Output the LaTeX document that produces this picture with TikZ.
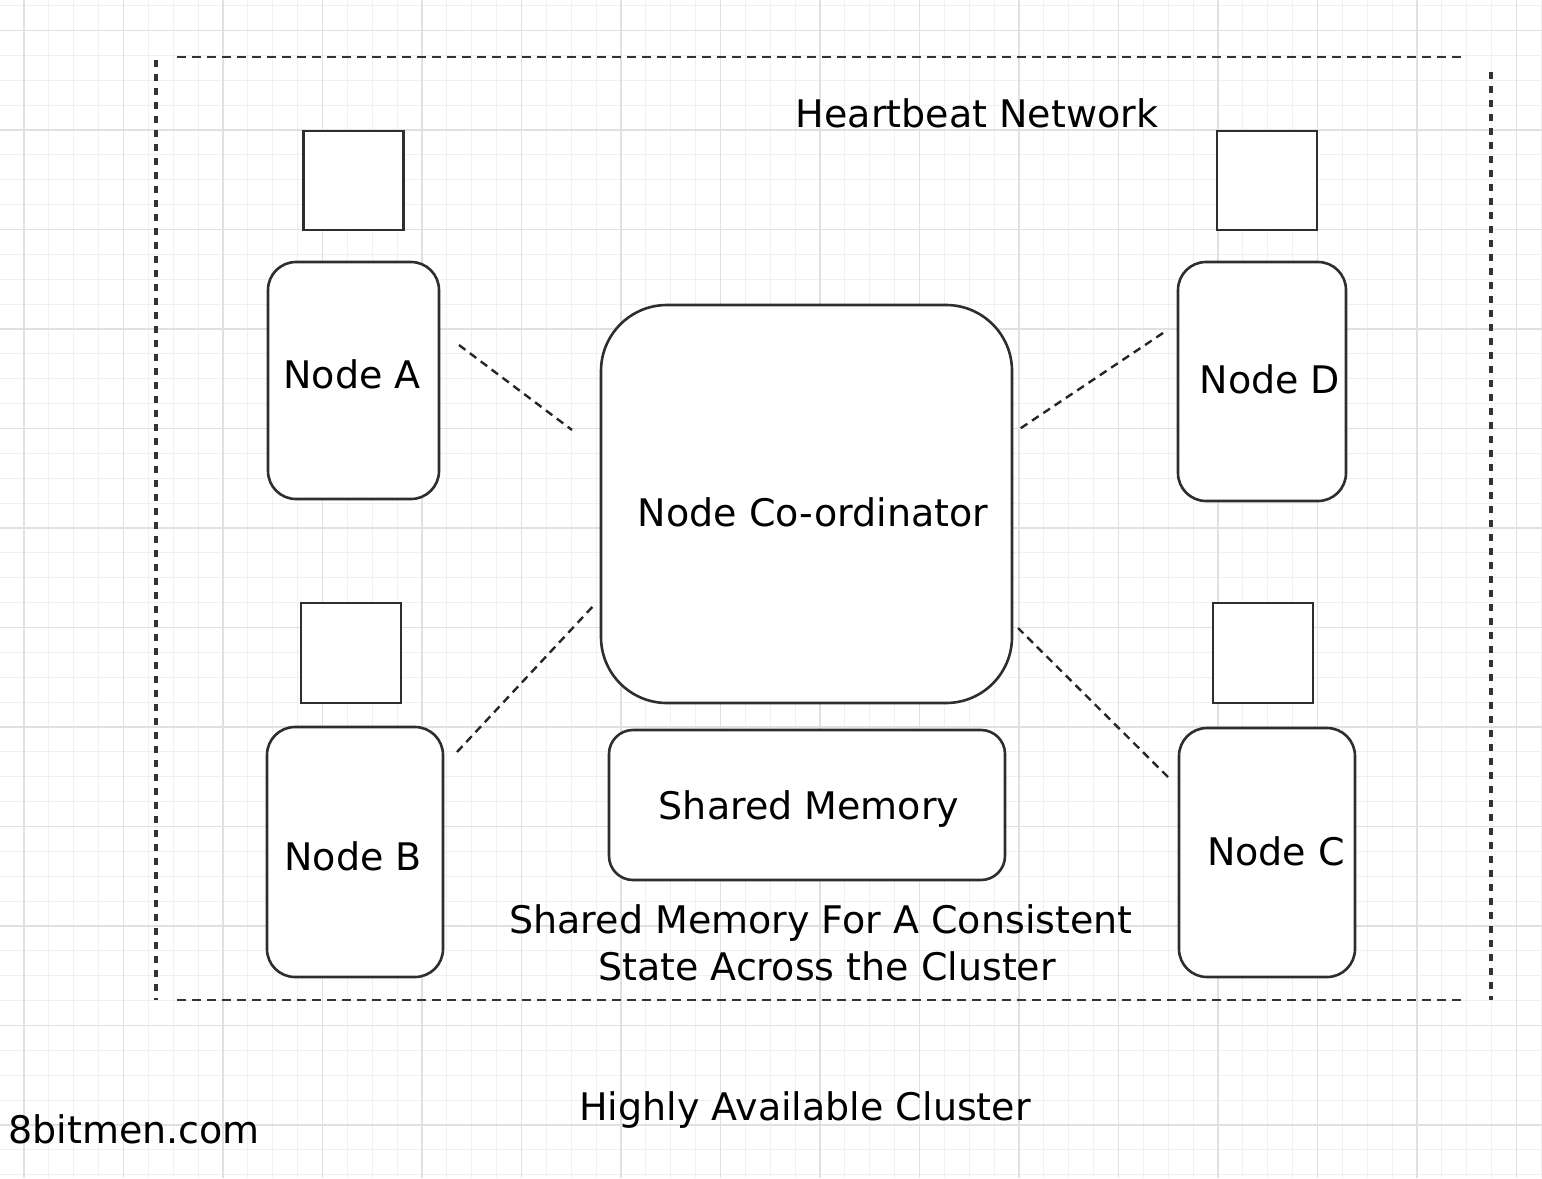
\documentclass[tikz,border=0pt]{standalone}
\usepackage{fontspec}
\setmainfont{DejaVu Sans}
\begin{document}
\begin{tikzpicture}[x=0.5pt,y=-0.5pt,
  minorgrid/.style={draw=black!6,line width=0.5pt},
  majorgrid/.style={draw=black!12,line width=0.6pt},
  box/.style={draw=black!82,line width=1.3pt,fill=white,inner sep=0pt},
  disk/.style={box,rectangle},
  host/.style={box,rounded corners=14pt},
  link/.style={draw=black!85,line width=1.2pt,dash pattern=on 4pt off 2.8pt},
  hborder/.style={draw=black!80,line width=1.4pt,dash pattern=on 4.5pt off 3pt},
  vborder/.style={draw=black!80,line width=1.7pt,dash pattern=on 3.5pt off 3.5pt},
  txt/.style={anchor=base,inner sep=0pt,font=\fontsize{19}{24}\selectfont}
]
% canvas and drawing grid
\useasboundingbox (0,0) rectangle (1542,1178);
\fill[white] (0,0) rectangle (1542,1178);
\foreach \i in {-9,...,53} {
  \draw[minorgrid] ({223+24.875*\i},0) -- ({223+24.875*\i},1178);
}
\foreach \j in {-5,...,42} {
  \draw[minorgrid] (0,{130+24.875*\j}) -- (1542,{130+24.875*\j});
}
\foreach \i in {-2,...,13} {
  \draw[majorgrid] ({223+99.5*\i},0) -- ({223+99.5*\i},1178);
}
\foreach \j in {-1,...,10} {
  \draw[majorgrid] (0,{130+99.5*\j}) -- (1542,{130+99.5*\j});
}

% dashed cluster boundary (heartbeat network)
\draw[hborder] (177,57) -- (1462,57);
\draw[hborder] (177,1000) -- (1462,1000);
\draw[vborder] (156,60) -- (156,1000);
\draw[vborder] (1491,72) -- (1491,1000);
\node[txt] (hb) at (977,127) {Heartbeat Network};

% storage disks above each node
\node[disk,minimum width=50pt,minimum height=49.5pt] (dA) at (353.5,180.5) {};
\node[disk,minimum width=50pt,minimum height=49.5pt] (dD) at (1267,180.5) {};
\node[disk,minimum width=50pt,minimum height=50pt] (dB) at (351,653) {};
\node[disk,minimum width=50pt,minimum height=50pt] (dC) at (1263,653) {};

% cluster nodes
\node[host,minimum width=85.5pt,minimum height=118.5pt] (nA) at (353.5,380.5) {};
\node[host,minimum width=84pt,minimum height=119.5pt] (nD) at (1262,381.5) {};
\node[host,minimum width=88pt,minimum height=125pt] (nB) at (355,852) {};
\node[host,minimum width=88pt,minimum height=124.5pt] (nC) at (1267,852.5) {};
\node[txt] (tA) at (352,388) {Node A};
\node[txt] (tD) at (1270,393) {Node D};
\node[txt] (tB) at (353,870) {Node B};
\node[txt] (tC) at (1276,865) {Node C};

% coordinator and shared memory
\node[box,rounded corners=33pt,minimum width=205.5pt,minimum height=199pt] (co) at (806.5,504) {};
\node[txt] (tco) at (813,526) {Node Co-ordinator};
\node[box,rounded corners=12pt,minimum width=198pt,minimum height=75pt] (sm) at (807,805) {};
\node[txt] (tsm) at (809,819) {Shared Memory};
\node[txt] (cap1) at (821,933) {Shared Memory For A Consistent};
\node[txt] (cap2) at (827,980) {State Across the Cluster};

% heartbeat links between the nodes and the coordinator
\coordinate (a1) at (459,345);  \coordinate (a2) at (572,430);
\coordinate (d1) at (1163,333); \coordinate (d2) at (1018,430);
\coordinate (b1) at (457,752);  \coordinate (b2) at (596,603);
\coordinate (c1) at (1168,777); \coordinate (c2) at (1018,628);
\draw[link] (a1) -- (a2);
\draw[link] (d1) -- (d2);
\draw[link] (b1) -- (b2);
\draw[link] (c1) -- (c2);

% titles
\node[txt] (title) at (805,1120) {Highly Available Cluster};
\node[txt] (site) at (134,1143) {8bitmen.com};
\end{tikzpicture}
\end{document}
